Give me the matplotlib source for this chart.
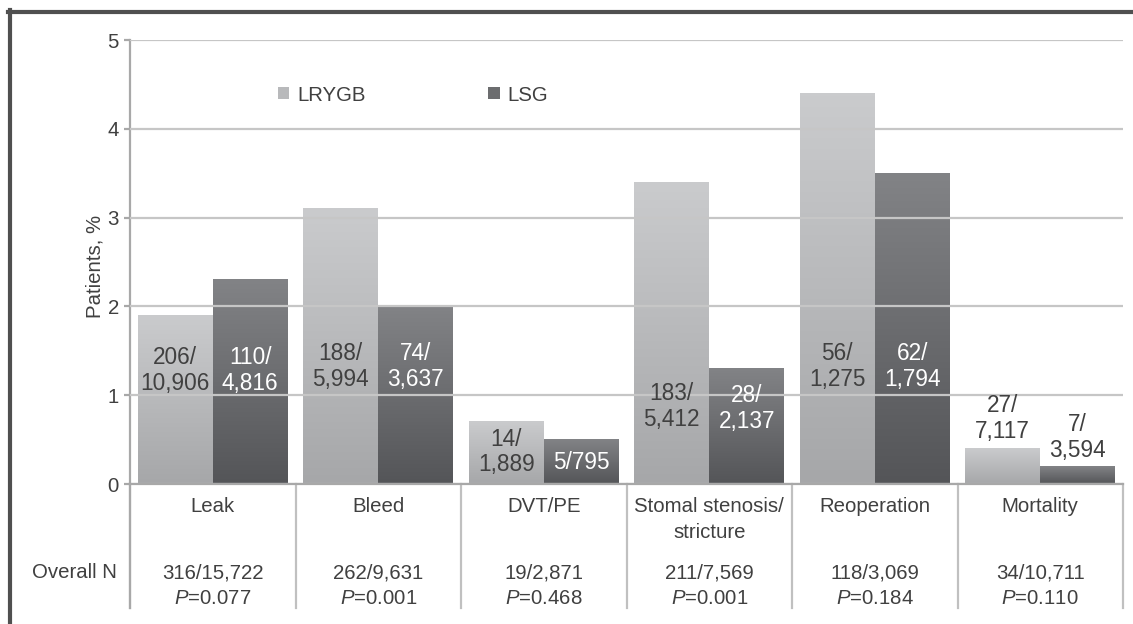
import numpy as np
import matplotlib
matplotlib.use("Agg")
import matplotlib.pyplot as plt
from matplotlib.colors import LinearSegmentedColormap
from matplotlib.patches import Patch
from matplotlib.lines import Line2D

plt.rcParams['font.family'] = ['Liberation Sans', 'DejaVu Sans']
plt.rcParams['mathtext.fontset'] = 'custom'
plt.rcParams['mathtext.rm'] = 'Liberation Sans'
plt.rcParams['mathtext.it'] = 'Liberation Sans:italic'

# data
categories = ["Leak", "Bleed", "DVT/PE", "Stomal stenosis/\nstricture", "Reoperation", "Mortality"]
lrygb = [1.9, 3.1, 0.7, 3.4, 4.4, 0.4]
lsg = [2.3, 2.0, 0.5, 1.3, 3.5, 0.2]
lrygb_labels = ["206/\n10,906", "188/\n5,994", "14/\n1,889", "183/\n5,412", "56/\n1,275", "27/\n7,117"]
lsg_labels = ["110/\n4,816", "74/\n3,637", "5/795", "28/\n2,137", "62/\n1,794", "7/\n3,594"]
overall_n = ["316/15,722", "262/9,631", "19/2,871", "211/7,569", "118/3,069", "34/10,711"]
p_values = ["0.077", "0.001", "0.468", "0.001", "0.184", "0.110"]

# where the count labels sit (layout)
lrygb_label_y = [1.28, 1.32, 0.36, 0.87, 1.32, 0.74]
lsg_label_y = [1.28, 1.32, 0.24, 0.85, 1.32, 0.52]
lsg_label_dark = [False, False, False, False, False, True]

TXT = '#404040'
FS = 14.7
FS_BAR = 16.3

fig = plt.figure(figsize=(11.33, 6.24), dpi=100)
W, H = 1133, 624
ax = fig.add_axes([130 / W, (H - 484) / H, (1123 - 130) / W, (484 - 40) / H])

x = np.arange(len(categories))
bw = 0.453
b1 = ax.bar(x - bw / 2, lrygb, bw, color='none', zorder=2)
b2 = ax.bar(x + bw / 2, lsg, bw, color='none', zorder=2)

cm1 = LinearSegmentedColormap.from_list('g1', ['#a6a7a9', '#cacbcd'])
cm2 = LinearSegmentedColormap.from_list('g2', ['#545558', '#828386'])
grad = np.linspace(0, 1, 128).reshape(-1, 1)
for bars, cm in ((b1, cm1), (b2, cm2)):
    for b in bars:
        x0, y0 = b.get_xy()
        ax.imshow(grad, extent=[x0, x0 + b.get_width(), y0, y0 + b.get_height()],
                  origin='lower', cmap=cm, aspect='auto', zorder=2, interpolation='bicubic')

ax.set_xlim(-0.5, len(categories) - 0.5)
ax.set_ylim(0, 5)
ax.set_yticks(range(6))
ax.set_xticks([])
ax.yaxis.grid(True, color='#c6c6c6', lw=1.6, zorder=3)
ax.set_axisbelow(False)
for s in ('top', 'right'):
    ax.spines[s].set_visible(False)
ax.spines['left'].set_color('#a8a8a8')
ax.spines['left'].set_linewidth(1.6)
ax.spines['bottom'].set_color('#a8a8a8')
ax.spines['bottom'].set_linewidth(1.6)
ax.spines['bottom'].set_zorder(4)
ax.tick_params(axis='y', colors='#a8a8a8', labelcolor=TXT, labelsize=FS, length=4, width=1.6, pad=4)

ax.set_ylabel("Patients, %", fontsize=FS, color=TXT)
ax.yaxis.set_label_coords(-0.026, 0.49)

# count labels inside / above bars
for i in range(len(categories)):
    ax.text(x[i] - bw / 2, lrygb_label_y[i], lrygb_labels[i], ha='center', va='center',
            fontsize=FS_BAR, color=TXT, linespacing=1.15, zorder=5)
    ax.text(x[i] + bw / 2, lsg_label_y[i], lsg_labels[i], ha='center', va='center',
            fontsize=FS_BAR, color=TXT if lsg_label_dark[i] else 'white', linespacing=1.15, zorder=5)

# table below the axis
ybot = -(608 - 484) / 88.8
for k in range(len(categories) + 1):
    ax.plot([k - 0.5, k - 0.5], [0, ybot], color='#c0c0c0', lw=1.6, clip_on=False, zorder=1)
ax.plot([-0.5, -0.5], [0, ybot], color='#a8a8a8', lw=1.6, clip_on=False, zorder=4)

for i, c in enumerate(categories):
    ax.text(x[i], -0.15, c, ha='center', va='top', fontsize=FS, color=TXT, linespacing=1.45)
    ax.text(x[i], -1.0, overall_n[i], ha='center', va='center', fontsize=FS, color=TXT)
    ax.text(x[i], -1.29, "$P$=" + p_values[i], ha='center', va='center', fontsize=FS, color=TXT)
ax.text(-0.5 - 13 / 165.5, -1.0, "Overall N", ha='right', va='center', fontsize=FS, color=TXT)

# legend
handles = [Patch(facecolor='#b8b9bb', edgecolor='none', label='LRYGB'),
           Patch(facecolor='#6c6d6f', edgecolor='none', label='LSG')]
ax.legend(handles=handles, loc='center left', bbox_to_anchor=(0.149, 0.876), ncol=2,
          frameon=False, fontsize=FS, handlelength=0.55, handleheight=0.55,
          handletextpad=0.4, columnspacing=6.0, borderpad=0, borderaxespad=0,
          labelcolor=TXT)

# outer frame (left and top edges)
fig.add_artist(Line2D([9.5 / W, 9.5 / W], [0, (H - 10) / H], transform=fig.transFigure,
                      color='#505050', lw=3))
fig.add_artist(Line2D([8 / W, 1], [(H - 12) / H, (H - 12) / H], transform=fig.transFigure,
                      color='#505050', lw=3))

fig.savefig("out.png", dpi=100)
